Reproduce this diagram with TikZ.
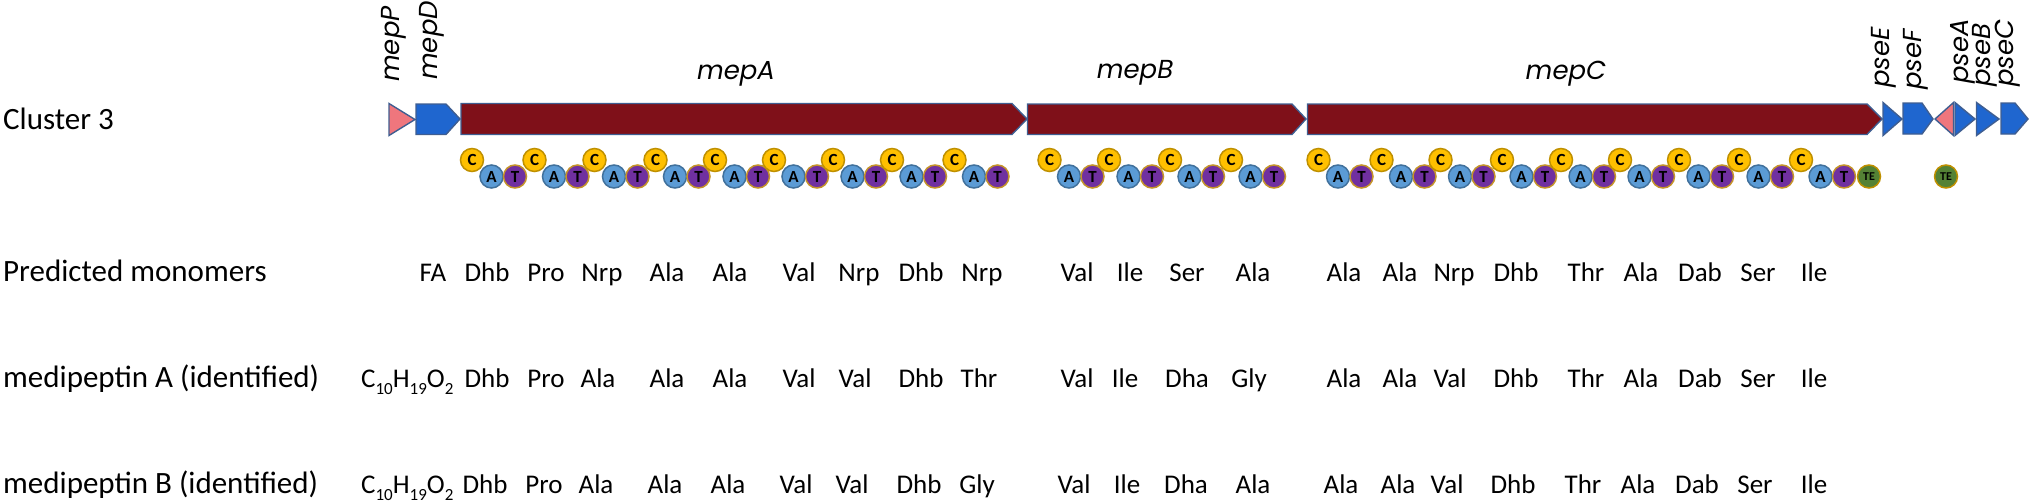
\documentclass[tikz,border=0pt]{standalone}
\usepackage{fontspec}
\setmainfont{Carlito}
\newfontfamily\genefont{Poppins}
\definecolor{genered}{HTML}{7F1019}
\definecolor{geneblue}{HTML}{1F66CF}
\definecolor{genepink}{HTML}{EF767D}
\definecolor{geneborder}{HTML}{3F5E91}
\definecolor{cfill}{HTML}{FFC000}
\definecolor{cborder}{HTML}{BF9000}
\definecolor{afill}{HTML}{5B9BD5}
\definecolor{aborder}{HTML}{41719C}
\definecolor{tfill}{HTML}{7030A0}
\definecolor{tborder}{HTML}{C5942A}
\definecolor{tefill}{HTML}{548235}
\newcommand\mysub[1]{\raisebox{-0.28em}{\fontsize{17}{17}\selectfont #1}}
\begin{document}
\begin{tikzpicture}[x=1pt,y=-1pt,
  gene/.style={draw=geneborder, line width=1.4pt, line join=miter},
  dom/.style={circle, minimum size=23pt, inner sep=0pt, line width=1.5pt,
    font=\fontsize{17}{17}\selectfont\bfseries},
  cdom/.style={dom, fill=cfill, draw=cborder},
  adom/.style={dom, fill=afill, draw=aborder},
  tdom/.style={dom, fill=tfill, draw=tborder},
  tedom/.style={dom, minimum size=23pt, fill=tefill, draw=cborder,
    font=\fontsize{12}{12}\selectfont\bfseries},
  mono/.style={anchor=base, inner sep=0pt, font=\fontsize{27}{27}\selectfont},
  rowlab/.style={anchor=base west, inner sep=0pt, font=\fontsize{31}{31}\selectfont},
  genelab/.style={inner sep=0pt, font=\genefont\itshape\fontsize{26}{26}\selectfont},
  vgenelab/.style={genelab, rotate=90, anchor=west}]
\useasboundingbox (0,0) rectangle (2032,503);

% row labels
\node[rowlab] (cl)  at (3,129) {Cluster 3};
\node[rowlab] (pm)  at (3,281) {Predicted monomers};
\node[rowlab] (mda) at (3,387) {medipeptin A (identified)};
\node[rowlab] (mdb) at (3,493) {medipeptin B (identified)};

% genes
\draw[gene, fill=genepink] (389,103.5) -- (415,119.5) -- (389,135.5) -- cycle;
\draw[gene, fill=geneblue] (416,104) -- (446,104) -- (460,119) -- (446,134.5) -- (416,134.5) -- cycle;
\draw[gene, fill=genered] (461,103.5) -- (1012,103.5) -- (1027,119) -- (1012,134.5) -- (461,134.5) -- cycle;
\draw[gene, fill=genered] (1027.5,104) -- (1292,104) -- (1306,119) -- (1292,134.5) -- (1027.5,134.5) -- cycle;
\draw[gene, fill=genered] (1307.5,104) -- (1867,104) -- (1882,119) -- (1867,134.5) -- (1307.5,134.5) -- cycle;
\draw[gene, fill=geneblue] (1883,102.5) -- (1902,119) -- (1883,135.5) -- cycle;
\draw[gene, fill=geneblue] (1903,103) -- (1922,103) -- (1933,119) -- (1922,134) -- (1903,134) -- cycle;
\draw[gene, fill=genepink] (1953.5,102.5) -- (1935,119) -- (1953.5,135.5) -- cycle;
\draw[gene, fill=geneblue] (1955,102.5) -- (1975,119) -- (1955,135.5) -- cycle;
\draw[gene, fill=geneblue] (1976.5,102.5) -- (1999,119) -- (1976.5,135.5) -- cycle;
\draw[gene, fill=geneblue] (2001,103) -- (2015,103) -- (2028,119) -- (2015,134) -- (2001,134) -- cycle;

% gene labels
\node[vgenelab] (lmepP) at (394,82) {mepP};
\node[vgenelab] (lmepD) at (432,80) {mepD};
\node[genelab, anchor=base] (lmepA) at (736,79) {mepA};
\node[genelab, anchor=base] (lmepB) at (1135,78) {mepB};
\node[genelab, anchor=base] (lmepC) at (1566,80) {mepC};
\node[vgenelab] (lpseE) at (1883.5,88) {pseE};
\node[vgenelab] (lpseF) at (1916,90) {pseF};
\node[vgenelab] (lpseA) at (1963,84) {pseA};
\node[vgenelab] (lpseB) at (1985,87) {pseB};
\node[vgenelab] (lpseC) at (2008,87) {pseC};

% domains
\foreach \x [count=\i] in {472,534.5,594.5,655.5,715,774,833,892,954.5,
    1049.5,1109,1170,1231,
    1318.5,1381.5,1440.5,1502,1561,1620,1679,1739,1801}{
  \node[cdom] (c\i) at (\x,160) {C};
  \node[adom] (a\i) at (\x+19.5,176.5) {A};
  \node[tdom] (t\i) at (\x+43,176.5) {T};
}
\node[tedom] (te1) at (1869,176.5) {TE};
\node[tedom] (te2) at (1946,176.5) {TE};

% predicted monomers
\foreach \x/\t [count=\i] in {433/FA,487/Dhb,546/Pro,602/Nrp,667/Ala,730/Ala,799/Val,859/Nrp,921/Dhb,982/Nrp,
    1077/Val,1130/Ile,1187/Ser,1253/Ala,
    1344/Ala,1400/Ala,1454/Nrp,1516/Dhb,1586/Thr,1641/Ala,1700/Dab,1758/Ser,1814/Ile}{
  \node[mono] (p\i) at (\x,281) {\t};
}
% medipeptin A
\node[mono, anchor=base west] (afa) at (361,387) {C\mysub{10}H\mysub{19}O\mysub{2}};
\foreach \x/\t [count=\i] in {487/Dhb,546/Pro,598/Ala,667/Ala,730/Ala,799/Val,855/Val,921/Dhb,979/Thr,
    1077/Val,1125/Ile,1187/Dha,1249/Gly,
    1344/Ala,1400/Ala,1450/Val,1516/Dhb,1586/Thr,1641/Ala,1700/Dab,1758/Ser,1814/Ile}{
  \node[mono] (ma\i) at (\x,387) {\t};
}
% medipeptin B
\node[mono, anchor=base west] (bfa) at (361,493) {C\mysub{10}H\mysub{19}O\mysub{2}};
\foreach \x/\t [count=\i] in {485/Dhb,544/Pro,596/Ala,665/Ala,728/Ala,796/Val,852/Val,919/Dhb,977/Gly,
    1074/Val,1127/Ile,1186/Dha,1253/Ala,
    1341/Ala,1398/Ala,1447/Val,1513/Dhb,1583/Thr,1638/Ala,1697/Dab,1755/Ser,1814/Ile}{
  \node[mono] (mb\i) at (\x,493) {\t};
}
\end{tikzpicture}
\end{document}
